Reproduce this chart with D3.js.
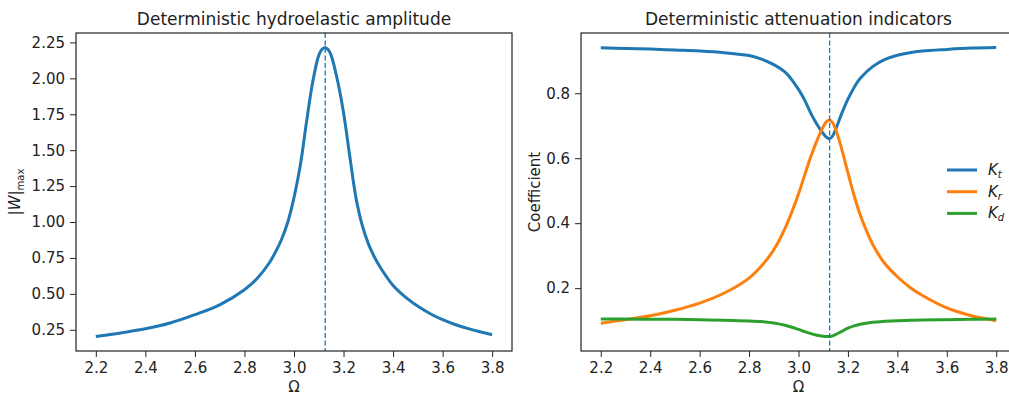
<!DOCTYPE html>
<html>
<head>
<meta charset="utf-8">
<script src="https://cdn.jsdelivr.net/npm/d3@7"></script>
<style>
  body { margin: 0; background: #fff; }
  svg text { font-family: "DejaVu Sans", sans-serif; fill: #222; }
</style>
</head>
<body>
<div id="chart"></div>
<script>
// two panels: hydroelastic amplitude and attenuation coefficients vs Omega

var omegaW = [2.2, 2.3, 2.4, 2.5, 2.6, 2.7, 2.8, 2.85, 2.9, 2.925, 2.95, 2.975, 3.0, 3.025, 3.05, 3.075,
              3.1, 3.1125, 3.125, 3.1375, 3.15, 3.175, 3.2, 3.225, 3.25, 3.275, 3.3, 3.325, 3.35,
              3.4, 3.45, 3.5, 3.55, 3.6, 3.65, 3.7, 3.75, 3.8];
var wMax =   [0.203, 0.228, 0.257, 0.297, 0.355, 0.424, 0.529, 0.605, 0.715, 0.79, 0.88, 1.0, 1.17, 1.39, 1.69, 1.97,
              2.16, 2.20, 2.215, 2.20, 2.16, 1.99, 1.76, 1.46, 1.17, 0.98, 0.85, 0.755, 0.68,
              0.558, 0.477, 0.413, 0.362, 0.32, 0.287, 0.26, 0.236, 0.215];

var omegaK = [2.2, 2.3, 2.4, 2.5, 2.6, 2.7, 2.8, 2.85, 2.9, 2.95, 3.0, 3.025, 3.05, 3.075,
              3.1, 3.1125, 3.125, 3.1375, 3.15, 3.175, 3.2, 3.225, 3.25, 3.3, 3.35, 3.4, 3.45, 3.5, 3.6, 3.7, 3.8];
var kt = [0.940, 0.938, 0.936, 0.933, 0.930, 0.925, 0.916, 0.905, 0.888, 0.862, 0.812, 0.779, 0.738, 0.704,
          0.676, 0.665, 0.660, 0.668, 0.688, 0.738, 0.782, 0.818, 0.846, 0.882, 0.904, 0.917, 0.925, 0.930, 0.935, 0.939, 0.941];
var kr = [0.092, 0.103, 0.115, 0.132, 0.154, 0.185, 0.231, 0.268, 0.318, 0.392, 0.490, 0.548, 0.605, 0.655,
          0.697, 0.712, 0.718, 0.710, 0.690, 0.628, 0.555, 0.485, 0.425, 0.335, 0.275, 0.235, 0.203, 0.178, 0.139, 0.115, 0.100];
var kd = [0.105, 0.105, 0.104, 0.104, 0.103, 0.101, 0.099, 0.097, 0.093, 0.085, 0.073, 0.066, 0.060, 0.055,
          0.052, 0.0512, 0.051, 0.053, 0.057, 0.067, 0.077, 0.084, 0.089, 0.095, 0.098, 0.100, 0.101, 0.102, 0.103, 0.104, 0.105];

var omegaRes = 3.126;
var xTicks = [2.2, 2.4, 2.6, 2.8, 3.0, 3.2, 3.4, 3.6, 3.8];
var yTicksW = [0.25, 0.5, 0.75, 1.0, 1.25, 1.5, 1.75, 2.0, 2.25];
var yTicksK = [0.2, 0.4, 0.6, 0.8];
var kNames = ["t", "r", "d"];
var kColors = ["#1f77b4", "#ff7f0e", "#2ca02c"];

var width = 1009, height = 396,
    plotTop = 33, plotBottom = 351;

var svg = d3.select("#chart").append("svg")
  .attr("width", width).attr("height", height);

function padded(vals){
  var lo = d3.min(vals), hi = d3.max(vals), m = (hi - lo) * 0.05;
  return [lo - m, hi + m];
}

function drawPanel(left, right, xs, series, yTicks, yFmt, title){
  var x = d3.scaleLinear().domain(padded(xs)).range([left, right]);
  var y = d3.scaleLinear().domain(padded(d3.merge(series.map(s => s.values)))).range([plotBottom, plotTop]);

  var g = svg.append("g");

  g.append("g")
    .attr("transform", "translate(0," + plotBottom + ")")
    .call(d3.axisBottom(x).tickValues(xTicks).tickFormat(d3.format(".1f")).tickSize(6).tickPadding(5))
    .call(a => a.select(".domain").remove());
  g.append("g")
    .attr("transform", "translate(" + left + ",0)")
    .call(d3.axisLeft(y).tickValues(yTicks).tickFormat(d3.format(yFmt)).tickSize(6).tickPadding(5))
    .call(a => a.select(".domain").remove());
  g.selectAll(".tick line").attr("stroke", "#222").attr("stroke-width", 1);
  g.selectAll(".tick text").style("font-size", "15px").attr("fill", "#222");

  var line = d3.line().curve(d3.curveCatmullRom.alpha(0.5));
  series.forEach(function(s){
    g.append("path")
      .attr("d", line(xs.map((v, i) => [x(v), y(s.values[i])])))
      .attr("fill", "none")
      .attr("stroke", s.color)
      .attr("stroke-width", 3)
      .attr("stroke-linejoin", "round");
  });

  g.append("line")
    .attr("x1", x(omegaRes)).attr("x2", x(omegaRes))
    .attr("y1", plotTop).attr("y2", plotBottom)
    .attr("stroke", "#1f77b4").attr("stroke-width", 1.3)
    .attr("stroke-dasharray", "5,2.5");

  g.append("rect")
    .attr("x", left).attr("y", plotTop)
    .attr("width", right - left).attr("height", plotBottom - plotTop)
    .attr("fill", "none").attr("stroke", "#222").attr("stroke-width", 1.2);

  g.append("text")
    .attr("x", (left + right) / 2).attr("y", 25)
    .attr("text-anchor", "middle")
    .style("font-size", "17px")
    .text(title);

  g.append("text")
    .attr("x", (left + right) / 2).attr("y", 392)
    .attr("text-anchor", "middle")
    .style("font-size", "15px")
    .text("Ω");
}

drawPanel(76, 512, omegaW,
  [{values: wMax, color: "#1f77b4"}], yTicksW, ".2f",
  "Deterministic hydroelastic amplitude");

drawPanel(581, 1016, omegaK,
  [{values: kt, color: kColors[0]}, {values: kr, color: kColors[1]}, {values: kd, color: kColors[2]}],
  yTicksK, ".1f", "Deterministic attenuation indicators");

// y labels
var yl = svg.append("text")
  .attr("transform", "translate(20,192) rotate(-90)")
  .attr("text-anchor", "middle")
  .style("font-size", "15px");
yl.append("tspan").text("|");
yl.append("tspan").style("font-style", "italic").text("W");
yl.append("tspan").text("|");
yl.append("tspan").attr("dy", 4).style("font-size", "10px").text("max");

svg.append("text")
  .attr("transform", "translate(540,192) rotate(-90)")
  .attr("text-anchor", "middle")
  .style("font-size", "15px")
  .text("Coefficient");

// legend
var leg = svg.append("g");
kNames.forEach(function(n, i){
  var ly = 170 + i * 21.7;
  leg.append("line")
    .attr("x1", 947).attr("x2", 977)
    .attr("y1", ly).attr("y2", ly)
    .attr("stroke", kColors[i]).attr("stroke-width", 3);
  var t = leg.append("text")
    .attr("x", 988).attr("y", ly + 5)
    .style("font-size", "15px").style("font-style", "italic");
  t.append("tspan").text("K");
  t.append("tspan").attr("dy", 3).style("font-size", "10px").text(n);
});
</script>
</body>
</html>
